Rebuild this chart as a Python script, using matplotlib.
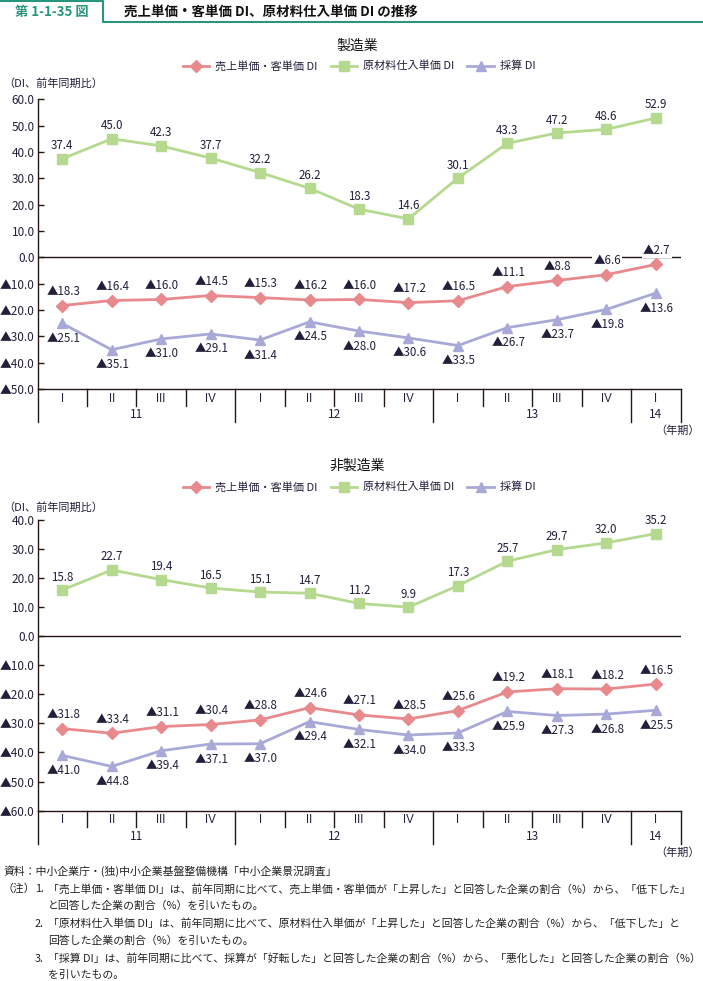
import matplotlib
matplotlib.use('Agg')
import matplotlib.pyplot as plt
from matplotlib.transforms import blended_transform_factory
from matplotlib.lines import Line2D

plt.rcParams['font.family'] = ['Noto Sans CJK JP', 'DejaVu Sans']

# ---------------- data ----------------
quarters = ['I', 'II', 'III', 'IV', 'I', 'II', 'III', 'IV', 'I', 'II', 'III', 'IV', 'I']
years = ['11', '12', '13', '14']
year_spans = [(0, 3), (4, 7), (8, 11), (12, 12)]

series_names = ['売上単価・客単価 DI', '原材料仕入単価 DI', '採算 DI']

mfg_price = [-18.3, -16.4, -16.0, -14.5, -15.3, -16.2, -16.0, -17.2, -16.5, -11.1, -8.8, -6.6, -2.7]
mfg_material = [37.4, 45.0, 42.3, 37.7, 32.2, 26.2, 18.3, 14.6, 30.1, 43.3, 47.2, 48.6, 52.9]
mfg_profit = [-25.1, -35.1, -31.0, -29.1, -31.4, -24.5, -28.0, -30.6, -33.5, -26.7, -23.7, -19.8, -13.6]

non_price = [-31.8, -33.4, -31.1, -30.4, -28.8, -24.6, -27.1, -28.5, -25.6, -19.2, -18.1, -18.2, -16.5]
non_material = [15.8, 22.7, 19.4, 16.5, 15.1, 14.7, 11.2, 9.9, 17.3, 25.7, 29.7, 32.0, 35.2]
non_profit = [-41.0, -44.8, -39.4, -37.1, -37.0, -29.4, -32.1, -34.0, -33.3, -25.9, -27.3, -26.8, -25.5]

notes = [
    (3, 871, '資料：中小企業庁・(独)中小企業基盤整備機構「中小企業景況調査」'),
    (3, 889, '（注）'),
    (35, 889, '1.'),
    (48, 889, '「売上単価・客単価 DI」は、前年同期に比べて、売上単価・客単価が「上昇した」と回答した企業の割合（%）から、「低下した」'),
    (48, 906, 'と回答した企業の割合（%）を引いたもの。'),
    (35, 924, '2.'),
    (48, 924, '「原材料仕入単価 DI」は、前年同期に比べて、原材料仕入単価が「上昇した」と回答した企業の割合（%）から、「低下した」と'),
    (48, 941, '回答した企業の割合（%）を引いたもの。'),
    (35, 959, '3.'),
    (48, 959, '「採算 DI」は、前年同期に比べて、採算が「好転した」と回答した企業の割合（%）から、「悪化した」と回答した企業の割合（%）'),
    (48, 975, 'を引いたもの。'),
]

# ---------------- style ----------------
W, H = 703, 981
RED = '#e8898d'
GREEN = '#b4d98f'
PURPLE = '#a9a9d8'
DARK = '#231f3a'
AXC = '#231815'
TEAL = '#27967c'

fig = plt.figure(figsize=(W / 100, H / 100), dpi=100)


def fx(x):
    return x / W


def fy(y):
    return 1 - y / H


def fmt(v):
    return ('▲' + f'{-v:.1f}') if v < 0 else f'{v:.1f}'


X_LEFT, X_RIGHT = 37.5, 680.5
LBL_BOX = dict(boxstyle='square,pad=0.1', fc='white', ec='none')


def panel(title, title_y, leg_y, unit_y, top_px, bot_px, ymin, ymax,
          price, material, profit, qlab_y, ylab_y, short_end, long_end, nenki_y):
    ax = fig.add_axes([fx(X_LEFT), fy(bot_px), (X_RIGHT - X_LEFT) / W, (bot_px - top_px) / H])
    xs = list(range(len(quarters)))
    l1, = ax.plot(xs, price, color=RED, lw=2.0, marker='D', ms=6.2, zorder=3)
    l2, = ax.plot(xs, material, color=GREEN, lw=2.0, marker='s', ms=7.5, zorder=3)
    l3, = ax.plot(xs, profit, color=PURPLE, lw=2.0, marker='^', ms=7, zorder=3)

    for i, v in enumerate(material):
        ax.annotate(fmt(v), (i, v), xytext=(0, 13), textcoords='offset pixels',
                    ha='center', va='center', fontsize=8.3, color=DARK)
    for i, v in enumerate(price):
        ax.annotate(fmt(v), (i, v), xytext=(1, 14), textcoords='offset pixels',
                    ha='center', va='center', fontsize=8.3, color=DARK,
                    bbox=LBL_BOX, zorder=2.5)
    for i, v in enumerate(profit):
        ax.annotate(fmt(v), (i, v), xytext=(1, -15), textcoords='offset pixels',
                    ha='center', va='center', fontsize=8.3, color=DARK)

    ax.axhline(0, color=AXC, lw=1.0, zorder=2)
    ax.set_xlim(-0.5, len(quarters) - 0.5)
    ax.set_ylim(ymin, ymax)
    ax.set_xticks([])
    ticks = list(range(ymin, ymax + 1, 10))
    ax.set_yticks(ticks)
    ax.set_yticklabels([fmt(t) for t in ticks])
    ax.tick_params(axis='y', direction='in', length=4, width=1.0, pad=2,
                   labelsize=8.5, labelcolor=DARK, color=AXC)
    for s in ['top', 'right']:
        ax.spines[s].set_visible(False)
    for s in ['left', 'bottom']:
        ax.spines[s].set_color(AXC)
        ax.spines[s].set_linewidth(1.0)
    ax.patch.set_visible(False)

    bt = blended_transform_factory(ax.transData, fig.transFigure)
    long_pos = [-0.5, 3.5, 7.5, 11.5, 12.5]
    for k in range(len(quarters) + 1):
        x = k - 0.5
        end = long_end if x in long_pos else short_end
        ax.add_line(Line2D([x, x], [fy(bot_px), fy(end)], transform=bt, color=AXC,
                           lw=1.0, clip_on=False))
    for i, q in enumerate(quarters):
        ax.text(i, fy(qlab_y), q, transform=bt, ha='center', va='center',
                fontsize=8.3, color=DARK, family=['Liberation Sans', 'DejaVu Sans'])
    for yl, (a, b) in zip(years, year_spans):
        ax.text((a + b) / 2, fy(ylab_y), yl, transform=bt, ha='center', va='center',
                fontsize=8.5, color=DARK)
    ax.set_xlim(-0.5, len(quarters) - 0.5)
    ax.set_ylim(ymin, ymax)

    fig.text(fx(700), fy(nenki_y), '（年期）', ha='right', va='center', fontsize=8, color=DARK)
    fig.text(fx(357), fy(title_y), title, ha='center', va='center', fontsize=10, color='#111111')
    fig.text(fx(3), fy(unit_y), '（DI、前年同期比）', ha='left', va='center', fontsize=8, color=DARK)
    fig.legend([l1, l2, l3], series_names, loc='center', bbox_to_anchor=(fx(359), fy(leg_y)),
               ncol=3, frameon=False, fontsize=8, handlelength=2.4, handletextpad=0.5,
               columnspacing=1.2, borderpad=0, labelcolor=DARK)
    return ax


panel('製造業', 46, 66, 84, 99.3, 389, -50, 60,
      mfg_price, mfg_material, mfg_profit, 399, 414, 405.5, 422, 431)
panel('非製造業', 466, 487, 508, 519.6, 810.7, -60, 40,
      non_price, non_material, non_profit, 820, 836, 827, 844, 853)

# header
fig.add_artist(Line2D([fx(0), fx(103), fx(103), fx(703)], [fy(1), fy(1), fy(22), fy(22)],
                      transform=fig.transFigure, color=TEAL, lw=1.5))
fig.text(fx(15), fy(12), '第 1-1-35 図', ha='left', va='center', fontsize=9.5,
         fontweight='bold', color=TEAL)
fig.text(fx(124), fy(12), '売上単価・客単価 DI、原材料仕入単価 DI の推移', ha='left', va='center',
         fontsize=9.7, fontweight='bold', color='#111111')

for x, y, t in notes:
    fig.text(fx(x), fy(y), t, ha='left', va='center', fontsize=7.8, color='#222222')

fig.savefig('out.png', dpi=100)
